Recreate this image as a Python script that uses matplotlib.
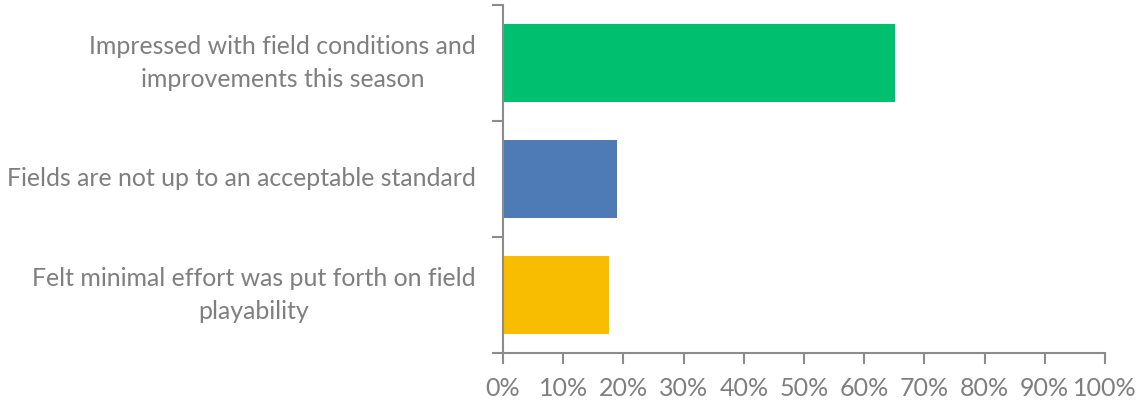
import matplotlib
matplotlib.use('Agg')
import matplotlib.pyplot as plt
from matplotlib.ticker import FuncFormatter

# Survey responses (share of respondents)
categories = ['Impressed with field conditions and\nimprovements this season',
              'Fields are not up to an acceptable standard',
              'Felt minimal effort was put forth on field\nplayability']
values = [0.651, 0.189, 0.176]
colors = ['#00BF6F', '#4E7AB5', '#F8BD00']

AXIS_GRAY = '#8C8C8C'
TEXT_GRAY = '#7F7F7F'

plt.rcParams['font.family'] = ['Lato', 'DejaVu Sans']

fig = plt.figure(figsize=(11.36, 4.05), dpi=100)
ax = fig.add_axes([503 / 1136, 52 / 405, 602 / 1136, 348 / 405])

ypos = list(range(len(categories)))
ax.barh(ypos, values, height=0.67, color=colors)

ax.set_xlim(0, 1)
ax.set_ylim(len(categories) - 0.5, -0.5)

# x axis: percent ticks, drawn outward
ax.set_xticks([i / 10 for i in range(11)])
ax.xaxis.set_major_formatter(FuncFormatter(lambda v, _: f'{v:.0%}'))
ax.tick_params(axis='x', direction='out', length=8, width=1.5, color=AXIS_GRAY,
               labelsize=18, labelcolor=TEXT_GRAY, pad=9)

# y axis: ticks between categories, labels at centres
ax.set_yticks([i - 0.5 for i in range(len(categories) + 1)])
ax.set_yticklabels([])
ax.set_yticks(ypos, minor=True)
ax.set_yticklabels(categories, minor=True, fontsize=17.9, color=TEXT_GRAY,
                   linespacing=1.55, ha='right', va='center', multialignment='center')
ax.tick_params(axis='y', which='major', direction='out', length=8, width=1.5, color=AXIS_GRAY)
ax.tick_params(axis='y', which='minor', length=0, pad=19.5)

for side in ['top', 'right']:
    ax.spines[side].set_visible(False)
for side in ['left', 'bottom']:
    ax.spines[side].set_color(AXIS_GRAY)
    ax.spines[side].set_linewidth(1.5)
ax.spines['bottom'].set_bounds(0, 1)

fig.savefig('out.png', dpi=100)
